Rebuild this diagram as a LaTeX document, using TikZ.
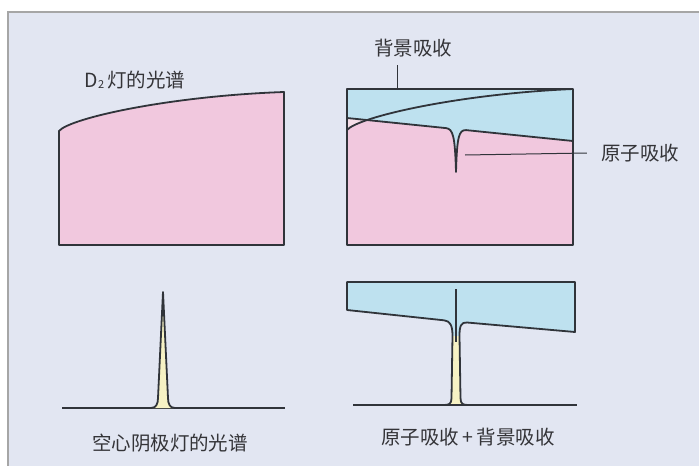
\documentclass[tikz,border=0pt]{standalone}
\usepackage{fontspec}
\newfontfamily\cjk{Noto Sans CJK SC}
\usepackage{xcolor}
\usepackage{tikz}
\usetikzlibrary{positioning,calc}

\definecolor{paper}{RGB}{226,230,242}
\definecolor{lampPink}{RGB}{241,200,222}
\definecolor{paleRose}{RGB}{245,222,232}
\definecolor{bgBlue}{RGB}{190,225,239}
\definecolor{lineYellow}{RGB}{246,242,196}
\definecolor{inkGray}{RGB}{48,52,58}
\definecolor{textGray}{RGB}{52,52,56}

\newcommand{\RiseCurve}{(347,130) .. controls (358,117) and (458,94) .. (573,89)}
\newcommand{\DipLine}{(347,118) -- (446,128.1) .. controls (453,129) and (455,136) .. (456,172) .. controls (457,136) and (459,130) .. (466,130.1) -- (573,141)}

\begin{document}
\begin{tikzpicture}[x=1pt,y=-1pt,
    spec line/.style={draw=inkGray,line width=1.8pt,line join=round},
    thin line/.style={draw=inkGray,line width=1pt},
    label node/.style={text=textGray,font=\cjk\fontsize{19.5}{22}\selectfont,inner sep=0pt}]

    \useasboundingbox (0,0) rectangle (699,466);
    \fill[white] (0,0) rectangle (699,466);
    \fill[paper] (8,12) rectangle (699,466);
    \draw[gray!70,line width=1.5pt] (8,466) -- (8,12) -- (699,12);

    % D2 lamp
    \filldraw[spec line,fill=lampPink] (59,245) -- (59,131) .. controls (70,118) and (170,96) .. (284,92) -- (284,245) -- cycle;

    % lamp with background and atomic absorption
    \fill[bgBlue] (347,89) rectangle (573,245);
    \fill[paleRose] \DipLine -- (573,245) -- (347,245) -- cycle;
    \begin{scope}
        \clip \RiseCurve -- (573,245) -- (347,245) -- cycle;
        \fill[lampPink] \DipLine -- (573,245) -- (347,245) -- cycle;
    \end{scope}
    \draw[spec line] (347,89) rectangle (573,245);
    \draw[spec line] \RiseCurve;
    \draw[spec line] \DipLine;

    % hollow cathode lamp
    \draw[spec line] (62,408) -- (285,408);
    \filldraw[spec line,fill=lineYellow] (151,408) .. controls (156,408) and (158,404) .. (158,398) -- (163,292) -- (168,398) .. controls (168,404) and (170,408) .. (175,408);

    % both absorptions
    \fill[bgBlue] (347,282) -- (575,282) -- (575,332) -- (467,322.5) .. controls (461,322) and (459.5,326) .. (459.5,336) -- (452.5,336) .. controls (452.5,325) and (450,321) .. (444,320.3) -- (347,310) -- cycle;
    \fill[lineYellow] (452.5,336) -- (451.5,398) .. controls (451.5,404) and (449,405) .. (444,405) -- (468,405) .. controls (463,405) and (460.5,404) .. (460.5,398) -- (459.5,336) -- cycle;
    \draw[spec line] (444,320.3) -- (347,310) -- (347,282) -- (575,282) -- (575,332) -- (467,322.5);
    \draw[spec line] (444,320.3) .. controls (450,321) and (452.5,325) .. (452.5,336) -- (451.5,398) .. controls (451.5,404) and (449,405) .. (444,405);
    \draw[spec line] (467,322.5) .. controls (461,322) and (459.5,326) .. (459.5,336) -- (460.5,398) .. controls (460.5,404) and (463,405) .. (468,405);
    \draw[spec line] (353,405) -- (577,405);
    \draw[thin line,line width=1.3pt] (456,289) -- (456,342);

    \node[label node] (LampLabel) at (135,80) {D\raisebox{-1pt}{\fontsize{11}{12}\selectfont 2}\,灯的光谱};
    \node[label node] (BgLabel) at (413,48) {背景吸收};
    \node[label node] (AtomLabel) at (640,153) {原子吸收};
    \node[label node] (HclLabel) at (170,443) {空心阴极灯的光谱};
    \node[label node] (SumLabel) at (468,437) {原子吸收\,+\,背景吸收};

    \coordinate (BgTip) at (397,89);
    \coordinate (DipMark) at (465,155);
    \draw[thin line] ($(BgLabel.south -| BgTip)+(0,8)$) -- (BgTip);
    \draw[thin line] ([xshift=-14pt]AtomLabel.west) -- (DipMark);
\end{tikzpicture}
\end{document}
